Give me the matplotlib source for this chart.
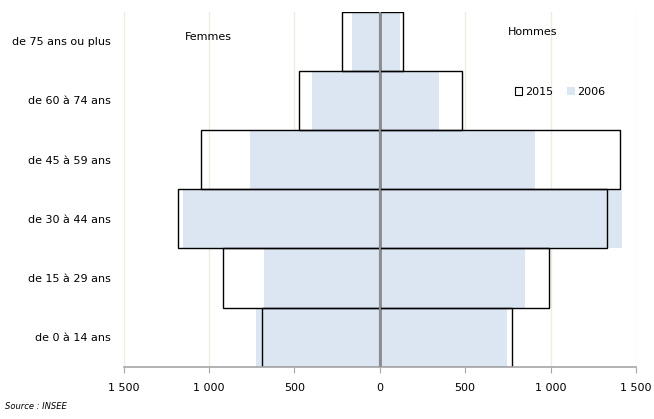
import numpy as np
import matplotlib
matplotlib.use("Agg")
import matplotlib.pyplot as plt
from matplotlib.patches import Patch

# Age groups, bottom to top
ages = ["de 0 à 14 ans", "de 15 à 29 ans", "de 30 à 44 ans",
        "de 45 à 59 ans", "de 60 à 74 ans", "de 75 ans ou plus"]

# Population
femmes_2015 = [691, 916, 1182, 1045, 474, 221]
hommes_2015 = [775, 994, 1328, 1408, 484, 137]
femmes_2006 = [726, 676, 1152, 762, 397, 162]
hommes_2006 = [748, 853, 1416, 908, 346, 121]

xticks = [-1500, -1000, -500, 0, 500, 1000, 1500]
xticklabels = ["1 500", "1 000", "500", "0", "500", "1 000", "1 500"]

blue = "#DCE6F2"
plt.rcParams["font.family"] = "DejaVu Sans"

fig = plt.figure(figsize=(6.54, 4.19), dpi=100)
ax = fig.add_axes([0.189, 0.1248, 0.7833, 0.8473])

y = np.arange(len(ages))

# vertical gridlines
for t in xticks:
    if t != 0:
        ax.axvline(t, color="#EEECE1", lw=1, zorder=0)

# 2006: filled bars
ax.barh(y, [-v for v in femmes_2006], height=1.0, color=blue, lw=0, zorder=1)
ax.barh(y, hommes_2006, height=1.0, color=blue, lw=0, zorder=1)

# 2015: outlined bars
ax.barh(y, [-v for v in femmes_2015], height=1.0, fill=False,
        edgecolor="black", lw=1, zorder=2)
ax.barh(y, hommes_2015, height=1.0, fill=False,
        edgecolor="black", lw=1, zorder=2)

# zero line
ax.axvline(0, color="#8C8C8C", lw=1.6, zorder=3)

ax.set_xlim(-1500, 1500)
ax.set_ylim(-0.5, 5.5)
ax.set_yticks(y)
ax.set_yticklabels(ages, fontsize=8)
ax.set_xticks(xticks)
ax.set_xticklabels(xticklabels, fontsize=8)
ax.tick_params(axis="y", length=0, pad=9)
ax.tick_params(axis="x", length=4, color="#A6A6A6", pad=8)

for s in ["top", "right", "left"]:
    ax.spines[s].set_visible(False)
ax.spines["bottom"].set_color("#A6A6A6")
ax.spines["bottom"].set_linewidth(1.2)

ax.text(0.165, 0.929, "Femmes", transform=ax.transAxes, fontsize=8,
        ha="center", va="center")
ax.text(0.799, 0.943, "Hommes", transform=ax.transAxes, fontsize=8,
        ha="center", va="center")

handles = [Patch(facecolor="white", edgecolor="black", lw=0.8, label="2015"),
           Patch(facecolor=blue, edgecolor="none", label="2006")]
ax.legend(handles=handles, loc="center", bbox_to_anchor=(0.852, 0.774),
          ncol=2, frameon=False, fontsize=8, handlelength=0.65,
          handleheight=0.65, handletextpad=0.2, columnspacing=1.3)

fig.text(0.008, 0.025, "Source : INSEE", fontsize=6, style="italic")

fig.savefig("out.png", dpi=100)
